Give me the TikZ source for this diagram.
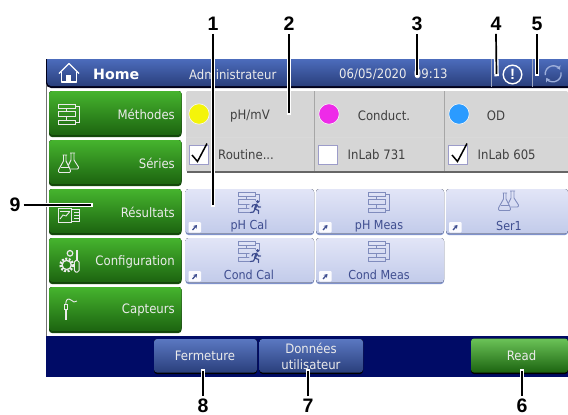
\documentclass[tikz,border=0pt]{standalone}
\usepackage{fontspec}
\setmainfont{DejaVu Sans Condensed}
\newfontfamily\callfont{Liberation Sans Bold}
\newfontfamily\homefont{DejaVu Sans Bold}
\usetikzlibrary{arrows.meta}
\definecolor{barT}{HTML}{4C6CBC}
\definecolor{barB}{HTML}{2A3F7C}
\definecolor{grnT}{HTML}{46B42E}
\definecolor{grnB}{HTML}{1C6410}
\definecolor{panel}{HTML}{D6D6D6}
\definecolor{shT}{HTML}{E2E5F7}
\definecolor{shB}{HTML}{C2CBEA}
\definecolor{shE}{HTML}{7F92CC}
\definecolor{shTx}{HTML}{3F4E90}
\definecolor{navy}{HTML}{000B66}
\definecolor{icoY}{HTML}{F4F40A}
\definecolor{icoM}{HTML}{EE2BE8}
\definecolor{icoB}{HTML}{2B9BFF}
\tikzset{
  x=1pt,y=-1pt,
  greenbtn/.style={rounded corners=3pt,top color=grnT,bottom color=grnB,draw=none},
  bluebtn/.style={rounded corners=3pt,top color=barT!92!white,bottom color=barB,draw=none},
  shortcut/.style={rounded corners=3pt,top color=shT,bottom color=shB,draw=none},
  btxt/.style={text=white!92!black,font=\fontsize{13}{15}\selectfont,inner sep=0pt},
  stxt/.style={text=shTx,font=\fontsize{12.4}{14}\selectfont,inner sep=0pt},
  ptxt/.style={text=black!75,font=\fontsize{13}{15}\selectfont,inner sep=0pt},
  callnum/.style={font=\callfont\fontsize{19.5}{19.5}\selectfont,inner sep=0pt,text=black},
  halo/.style={draw=white,line width=4.5pt},
  callline/.style={draw=black,line width=1.7pt},
  chkbox/.style={draw=blue!30!gray!60,fill=white,line width=.8pt},
  icw/.style={draw=white!92!black,line width=.9pt},
}
\newcommand{\flowic}[3]{% x y colour
  \begin{scope}[shift={(#1,#2)},draw=#3,line width=.9pt]
    \draw (-11,-10) rectangle (6,-6);
    \draw (-11,-2.5) rectangle (6,2);
    \draw (-11,6) rectangle (6,10);
    \draw (6,-8) -- (10,-8) -- (10,8) -- (6,8);
    \draw (-3,-6) -- (-3,-2.5) (-3,2) -- (-3,6);
  \end{scope}}
\newcommand{\flaskic}[3]{%
  \begin{scope}[shift={(#1,#2)},draw=#3,line width=.9pt,line join=round]
    \draw (-6.5,-8) -- (-2,-8) (-5.5,-8) -- (-5.5,-2) -- (-10.5,7) [rounded corners=1pt] -- (-10.5,9.5) -- (1.5,9.5) -- (1.5,7) [sharp corners] -- (-3,-2) -- (-3,-8);
    \draw (1,-10) -- (6,-10) (2,-10) -- (2,-3) -- (-.5,2);
    \draw (5,-10) -- (5,-3) -- (9.5,4) [rounded corners=1pt] -- (9.5,6) -- (1.5,6);
    \draw (-8.5,4) -- (-.5,4);
  \end{scope}}
\newcommand{\runner}[2]{%
  \begin{scope}[shift={(#1,#2)},draw=shTx,fill=shTx,line cap=round]
    \fill[shT!50!shB] (0,0) circle (6.5);
    \fill (2.2,-5.3) circle (1.7);
    \draw[line width=2.2pt] (1,-2.5) -- (-.5,2);
    \draw[line width=1.2pt] (-.5,2) -- (3,3.5) -- (3,6.5) (-.5,2) -- (-2,5) -- (-5,5.5);
    \draw[line width=1.2pt] (1,-2.5) -- (-2.5,-2) -- (-3.5,0) (1,-2.5) -- (3,0) -- (5,0);
  \end{scope}}
\newcommand{\badge}[2]{%
  \begin{scope}[shift={(#1,#2)}]
    \fill[white!85!shT,rounded corners=1pt] (0,0) rectangle (12.5,10.5);
    \draw[shTx,line width=1.3pt,-{Stealth[length=3.5pt,width=4.5pt]}] (4,8) -- (8.5,3);
  \end{scope}}
\begin{document}
\begin{tikzpicture}
\useasboundingbox (0,0) rectangle (568,415);
\fill[white] (0,0) rectangle (568,415);
% frame
\fill[navy] (46,336) rectangle (568,377);
\draw[black!55,line width=.6pt] (46,80) -- (46,336);
% top bar
\fill[black!90!blue] (46,59) [rounded corners=5pt] -- (46,88) [sharp corners] -- (568,88) -- (568,59) -- cycle;
\shade[top color=barT,bottom color=barB] (47,59) [rounded corners=4pt] -- (47,86) [sharp corners] -- (568,86) -- (568,59) -- cycle;
\draw[white!55!barB,line width=.5pt] (491.5,59) -- (491.5,87) (532.5,59) -- (532.5,87);
% house
\begin{scope}[draw=white,line width=1.2pt,line join=round]
  \draw (59,73.5) -- (69,63.5) -- (79,73.5);
  \draw (61.5,71.5) -- (61.5,82) -- (76.5,82) -- (76.5,71.5);
  \fill[white] (65.7,75) rectangle (71.3,82);
\end{scope}
\node[anchor=west,inner sep=0pt,text=white,font=\homefont\fontsize{14.2}{16}\selectfont] (home) at (93,74) {Home};
\node[btxt,anchor=west] (admin) at (189,74.5) {Administrateur};
\node[btxt,anchor=west] (dt) at (339,74.5) {06/05/2020\ \ 09:13};
% warn & sync
\draw[white,line width=1.4pt] (512.5,74.5) circle (9.3);
\node[inner sep=0pt,text=white,font=\callfont\fontsize{15}{15}\selectfont] (excl) at (512.5,74.5) {!};
\begin{scope}[draw=barT!55!white,line width=1.3pt,>={Stealth[length=4pt,width=5pt]}]
  \draw[->] (553.2,73.8) ++(170:8) arc (170:330:8);
  \draw[->] (553.2,73.8) ++(-10:8) arc (-10:150:8);
\end{scope}
% green buttons
\foreach \yy/\nm in {91/a,140/b,189/c,238/d,287/e}{
  \fill[grnB!75!black,rounded corners=3pt] (49,\yy) rectangle (181.5,\yy+46);
  \fill[greenbtn] (49,\yy) rectangle (181.5,\yy+44);
}
\node[btxt,anchor=east] (m1) at (175,114.5) {Méthodes};
\node[btxt,anchor=east] (m2) at (175,163.5) {Séries};
\node[btxt,anchor=east] (m3) at (175,212.5) {Résultats};
\node[btxt,anchor=east] (m4) at (175,261.5) {Configuration};
\node[btxt,anchor=east] (m5) at (175,310.5) {Capteurs};
\flowic{69}{114}{white!92!black}
\flaskic{69}{163}{white!92!black}
% results icon
\begin{scope}[icw]
  \draw (58.5,208.5) rectangle (71,222);
  \draw (60,219) -- (63,215) -- (66,216) -- (69.5,212);
  \draw (60,211) -- (69.5,211);
  \draw (72,209) -- (79,209) -- (79,221) -- (72,221) (74,212) -- (79,212) (74,215) -- (79,215) (74,218) -- (79,218);
\end{scope}
% config icon
\draw[white!92!black,line width=2.4pt,dash pattern=on 2pt off 1.45pt] (66.7,265) circle (6.2);
\draw[white!92!black,line width=1.3pt] (66.7,265) circle (4.6);
\draw[white!92!black,line width=1.2pt] (70,253.3) circle (2.8);
\draw[white!92!black,line width=1pt,rounded corners=1.5pt] (74.3,260.5) rectangle (79,272);
\fill[white!92!black] (75.7,250) rectangle (77.7,261);
% sensor icon
\draw[icw] (65.7,304) .. controls (66,299) and (68,298) .. (71,300) .. controls (73,302) and (75,303) .. (77,301);
\fill[white!92!black] (65.2,309) rectangle (67,320);
\draw[icw] (64.3,304) rectangle (67.7,309.5);
% gray panel
\fill[panel,rounded corners=2pt] (186,91) rectangle (568,172);
\fill[black!60] (187,170.5) rectangle (568,172.5);
\draw[white!85!black,line width=.7pt] (186,137) -- (568,137);
\draw[black!35,line width=.7pt] (314.8,91) -- (314.8,171) (444.5,91) -- (444.5,171);
\fill[icoY,draw=white!80!panel,line width=.6pt] (199,114) circle (10.2);
\fill[icoM,draw=white!80!panel,line width=.6pt] (329,114) circle (10.2);
\fill[icoB,draw=white!80!panel,line width=.6pt] (459,114) circle (10.2);
\node[ptxt] (t1) at (250,116.5) {pH/mV};
\node[ptxt] (t2) at (384,115.5) {Conduct.};
\node[ptxt] (t3) at (496,115.5) {OD};
\draw[chkbox] (189,145.5) rectangle (208,164);
\draw[chkbox] (318.5,145.5) rectangle (337,164);
\draw[chkbox] (448.5,145.5) rectangle (467,164);
\draw[black,line width=1.5pt] (192,155) -- (197.5,161.5) -- (207,143.5);
\draw[black,line width=1.5pt] (452,155) -- (457.5,161.5) -- (467,143.5);
\node[ptxt,anchor=west] (t4) at (218,155) {Routine...};
\node[ptxt,anchor=west] (t5) at (347.5,155) {InLab 731};
\node[ptxt,anchor=west] (t6) at (477.5,155) {InLab 605};
% shortcuts
\foreach \xa/\xb/\yy in {185.5/314/189,316/444/189,446/568/189,185.5/314/238,316/444/238}{
  \fill[shE,rounded corners=3pt] (\xa,\yy) rectangle (\xb,\yy+46);
  \fill[shortcut] (\xa,\yy) rectangle (\xb,\yy+44.5);
}
\flowic{249}{202}{shTx!50!shB}
\runner{255.5}{207}
\flowic{379}{202}{shTx!50!shB}
\flaskic{509}{201}{shTx!50!shB}
\flowic{249}{251}{shTx!50!shB}
\runner{255.5}{256}
\flowic{379}{251}{shTx!50!shB}
\node[stxt] (s1) at (249,226) {pH Cal};
\node[stxt] (s2) at (379,226) {pH Meas};
\node[stxt] (s3) at (509,226) {Ser1};
\node[stxt] (s4) at (249,275) {Cond Cal};
\node[stxt] (s5) at (379,275) {Cond Meas};
\badge{188.5}{222}
\badge{319}{222}
\badge{449}{222}
\badge{188.5}{271}
\badge{319}{271}
% bottom buttons
\fill[black,rounded corners=3pt] (154,339) rectangle (257,374);
\fill[bluebtn] (154,339) rectangle (257,372.5);
\fill[black,rounded corners=3pt] (259.5,339) rectangle (363,374);
\fill[bluebtn] (259.5,339) rectangle (363,372.5);
\fill[black,rounded corners=3pt] (471,339) rectangle (568,374);
\fill[rounded corners=3pt,top color=grnT!80!white,bottom color=grnB] (471,338.5) rectangle (568,372.5);
\node[btxt] (f) at (205,356) {Fermeture};
\node[btxt,align=center,font=\fontsize{13}{16}\selectfont] (d) at (311,356.5) {Données\\utilisateur};
\node[btxt] (r) at (521.5,356) {Read};
% callouts
\node[callnum] (n1) at (213,24) {1};
\node[callnum] (n2) at (289,24) {2};
\node[callnum] (n3) at (417,24) {3};
\node[callnum] (n4) at (496,24) {4};
\node[callnum] (n5) at (537,24) {5};
\node[callnum] (n6) at (522,406) {6};
\node[callnum] (n7) at (308,406) {7};
\node[callnum] (n8) at (203,406) {8};
\node[callnum] (n9) at (15,205) {9};
\coordinate (c1) at (213,205);
\coordinate (c2) at (289,113);
\coordinate (c3) at (417,75);
\coordinate (c4) at (496.5,74);
\coordinate (c5) at (537,74);
\coordinate (c6) at (522,371);
\coordinate (c7) at (308,371);
\coordinate (c8) at (203,371);
\coordinate (c9) at (91,205);
\foreach \nn/\cc in {n1/c1,n2/c2,n3/c3,n4/c4,n5/c5}{
  \draw[halo,line cap=rect] ([yshift=-16pt]\nn.south) -- (\cc);
  \draw[callline] ([yshift=-3pt]\nn.south) -- (\cc);
}
\foreach \nn/\cc in {n6/c6,n7/c7,n8/c8}{
  \draw[halo,line cap=rect] ([yshift=16pt]\nn.north) -- (\cc);
  \draw[callline] ([yshift=3pt]\nn.north) -- (\cc);
}
\draw[halo,line cap=rect] ([xshift=25pt]n9.east) -- (c9);
\draw[callline] ([xshift=3pt]n9.east) -- (c9);
\end{tikzpicture}
\end{document}
